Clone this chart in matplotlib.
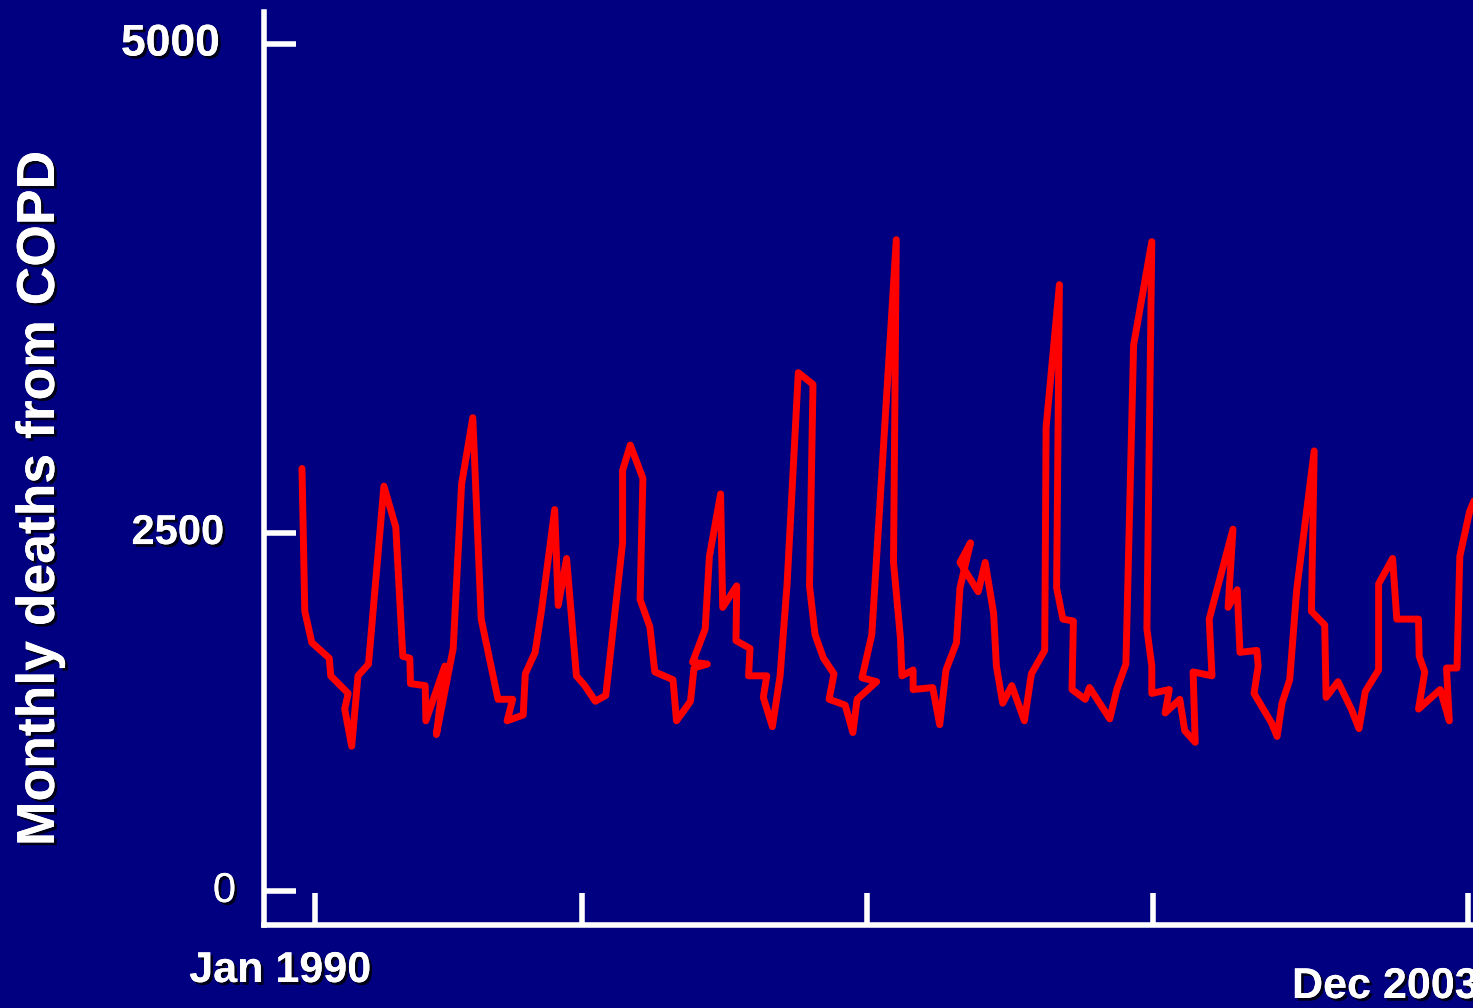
import matplotlib
matplotlib.use("Agg")
import matplotlib.pyplot as plt
import matplotlib.patheffects as pe

# months since Jan 1990 (the original trace doubles back in a few places)
months = [0.0, 0.4, 1.4, 3.9, 4.1, 6.6, 6.1, 7.1, 8.0, 9.5,
          11.7, 13.4, 14.4, 15.4, 15.5, 17.6, 17.7, 20.4, 19.2, 21.6,
          22.8, 24.4, 25.6, 28.0, 30.1, 29.3, 31.6, 31.9, 33.3, 34.2,
          36.1, 36.6, 37.8, 39.2, 40.4, 41.9, 43.4, 44.7, 45.8, 45.8,
          46.9, 48.7, 48.3, 49.7, 50.4, 53.0, 53.5, 55.5, 56.0, 57.9,
          55.8, 57.6, 58.2, 59.8, 60.1, 62.1, 62.0, 64.0, 63.8, 66.4,
          65.9, 67.2, 68.3, 69.3, 70.9, 73.0, 72.5, 73.3, 74.5, 76.0,
          75.3, 77.6, 78.7, 79.3, 82.1, 80.0, 81.4, 84.9, 84.5, 85.5,
          85.7, 87.3, 87.3, 90.1, 91.1, 92.0, 93.5, 94.0, 95.5, 94.0,
          96.6, 97.6, 98.8, 99.2, 100.1, 101.4, 103.2, 104.2, 106.1, 106.3,
          108.2, 107.8, 108.7, 110.2, 110.0, 111.9, 112.5, 115.4, 116.4, 117.7,
          118.8, 121.4, 120.7, 121.4, 121.4, 123.9, 123.3, 125.4, 126.1, 127.6,
          127.3, 130.0, 129.6, 133.0, 132.3, 133.6, 134.0, 136.4, 136.6, 136.0,
          138.5, 139.3, 140.0, 141.1, 142.1, 144.6, 144.2, 146.1, 146.3, 148.0,
          149.9, 151.0, 151.9, 153.8, 153.8, 155.8, 156.4, 159.5, 159.6, 160.4,
          159.5, 162.6, 163.9, 163.5, 165.0, 165.4, 166.8, 167.6]
deaths = [2830, 2100, 1940, 1860, 1770, 1680, 1600, 1410, 1770, 1830,
          2740, 2530, 1870, 1860, 1730, 1720, 1540, 1820, 1470, 1910,
          2750, 3090, 2060, 1650, 1650, 1540, 1570, 1780, 1890, 2100,
          2620, 2130, 2370, 1770, 1720, 1640, 1670, 2090, 2450, 2820,
          2950, 2780, 2160, 2020, 1790, 1750, 1540, 1640, 1810, 1830,
          1840, 2010, 2380, 2700, 2120, 2230, 1950, 1910, 1770, 1770,
          1660, 1510, 1770, 2240, 3320, 3260, 2230, 1980, 1860, 1780,
          1650, 1620, 1480, 1650, 1740, 1760, 1980, 4000, 2350, 1960,
          1770, 1800, 1700, 1710, 1520, 1800, 1940, 2220, 2450, 2350,
          2200, 2350, 2090, 1820, 1630, 1720, 1540, 1780, 1900, 3040,
          3770, 2220, 2060, 2050, 1700, 1650, 1710, 1550, 1700, 1830,
          3460, 3990, 2010, 1820, 1680, 1700, 1580, 1650, 1490, 1430,
          1790, 1770, 2060, 2520, 2120, 2210, 1890, 1900, 1820, 1680,
          1530, 1460, 1630, 1750, 2210, 2920, 2100, 2030, 1660, 1740,
          1600, 1500, 1690, 1800, 2240, 2370, 2060, 2060, 1870, 1790,
          1600, 1700, 1540, 1810, 1810, 2380, 2610, 2680]

x_ticks = [1.9, 40.0, 80.7, 121.6, 166.6]
y_ticks = [670, 2500, 5000]
y_labels = ["0", "2500", "5000"]

navy = "#000080"
W, H = 1473, 1008
shadow = [pe.withSimplePatchShadow(offset=(2, -2), shadow_rgbFace="black", alpha=0.8), pe.Normal()]

fig = plt.figure(figsize=(W / 100, H / 100), dpi=100, facecolor=navy)
ax = fig.add_axes([264 / W, (H - 925) / H, (W - 264) / W, (925 - 12) / H])
ax.set_facecolor(navy)

ax.plot(months, deaths, color="#ff0000", lw=5,
        solid_joinstyle="round", solid_capstyle="round")

ax.set_xlim((264 - 302) / 7, (1473 - 302) / 7)
ax.set_ylim(496, 5164)

for s in ["top", "right"]:
    ax.spines[s].set_visible(False)
for s in ["left", "bottom"]:
    ax.spines[s].set_color("white")
    ax.spines[s].set_linewidth(4)

ax.set_xticks(x_ticks)
ax.set_xticklabels([])
ax.set_yticks(y_ticks)
ax.set_yticklabels([])
ax.tick_params(direction="in", length=23, width=4, color="white")

# y tick labels, each with its own offset, size and weight as in the original
pads = [28, 40, 44]
sizes = [30, 30, 32]
weights = ["normal", "bold", "bold"]
for val, lab, p, sz, w in zip(y_ticks, y_labels, pads, sizes, weights):
    ax.annotate(lab, xy=(0, val), xycoords=ax.get_yaxis_transform(),
                xytext=(-p * 0.72, 0), textcoords="offset points",
                ha="right", va="center", color="white", fontsize=sz,
                fontweight=w, family=["Liberation Sans", "DejaVu Sans"],
                path_effects=shadow)

txt = dict(color="white", fontweight="bold",
           family=["Liberation Sans", "DejaVu Sans"],
           path_effects=shadow)
fig.text(280 / W, 1 - 971 / H, "Jan 1990", ha="center", va="center", fontsize=31, **txt)
fig.text(1292 / W, 1 - 987 / H, "Dec 2003", ha="left", va="center", fontsize=31, **txt)
fig.text(40 / W, 1 - 498 / H, "Monthly deaths from COPD", rotation=90,
         ha="center", va="center", fontsize=38.5, **txt)

fig.savefig("out.png", dpi=100, facecolor=navy)
